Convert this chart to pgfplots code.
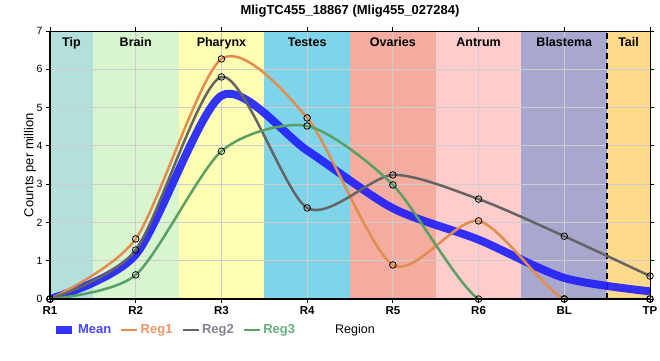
\documentclass[border=0pt]{standalone}
\usepackage{fontspec}
\setmainfont{Liberation Sans}
\usepackage{pgfplots}
\pgfplotsset{compat=1.18}
\definecolor{cTip}{RGB}{180,224,220}
\definecolor{cBrain}{RGB}{216,245,208}
\definecolor{cPhar}{RGB}{255,255,180}
\definecolor{cTest}{RGB}{128,212,234}
\definecolor{cOva}{RGB}{245,172,160}
\definecolor{cAntr}{RGB}{255,204,204}
\definecolor{cBlas}{RGB}{168,168,206}
\definecolor{cTail}{RGB}{255,217,140}
\definecolor{cMean}{RGB}{30,30,250}
\definecolor{cReg1}{RGB}{226,140,78}
\definecolor{cReg2}{RGB}{100,100,100}
\definecolor{cReg3}{RGB}{88,160,100}
\definecolor{tMean}{RGB}{70,70,255}
\definecolor{tReg1}{RGB}{232,150,100}
\definecolor{tReg2}{RGB}{130,130,145}
\definecolor{tReg3}{RGB}{100,175,125}
\definecolor{gridc}{RGB}{205,205,205}
\tikzset{reglab/.style={anchor=north, yshift=-3pt, font=\bfseries\fontsize{12.5}{14}\selectfont}}
\begin{document}
\begin{tikzpicture}
\begin{axis}[
  set layers,
  width=600pt, height=268pt, scale only axis,
  xmin=0, xmax=7, ymin=0, ymax=7,
  xtick={0,...,7}, xticklabels={R1,R2,R3,R4,R5,R6,BL,TP},
  ytick={0,...,7},
  grid=major, grid style={color=gridc, line width=0.8pt},
  axis line style={black, line width=1pt},
  tick align=outside, major tick length=4pt, tick style={black, line width=0.8pt},
  x tick label style={font=\bfseries\fontsize{11.5}{13}\selectfont},
  y tick label style={font=\fontsize{10.5}{12}\selectfont},
  /pgf/number format/assume math mode=true,
  xlabel={Region},
  xlabel style={font=\fontsize{12.5}{14}\selectfont, at={(axis description cs:0.5083,-0.1157)}, anchor=center},
  ylabel={Counts per million},
  ylabel style={font=\fontsize{13}{15}\selectfont, at={(axis description cs:-0.0333,0.5)}, anchor=center},
  title={MligTC455\_18867 (Mlig455\_027284)},
  title style={font=\bfseries\fontsize{13}{15}\selectfont, at={(axis description cs:0.5,1)}, anchor=center, yshift=14pt},
  clip mode=individual,
  legend style={at={(axis description cs:0.003,-0.1157)}, anchor=west, draw=none, fill=none,
    font=\bfseries\fontsize{13}{15}\selectfont, inner sep=0pt},
  legend columns=4,
  legend image code/.code={\draw[#1] (0pt,0pt) -- (16pt,0pt);},
  /tikz/every even column/.append style={column sep=7pt},
]
% region bands
\addplot[fill=cTip, draw=none, on layer=axis background, forget plot] coordinates {(0,0)(0,7)(0.5,7)(0.5,0)} -- cycle;
\addplot[fill=cBrain, draw=none, on layer=axis background, forget plot] coordinates {(0.5,0)(0.5,7)(1.5,7)(1.5,0)} -- cycle;
\addplot[fill=cPhar, draw=none, on layer=axis background, forget plot] coordinates {(1.5,0)(1.5,7)(2.5,7)(2.5,0)} -- cycle;
\addplot[fill=cTest, draw=none, on layer=axis background, forget plot] coordinates {(2.5,0)(2.5,7)(3.5,7)(3.5,0)} -- cycle;
\addplot[fill=cOva, draw=none, on layer=axis background, forget plot] coordinates {(3.5,0)(3.5,7)(4.5,7)(4.5,0)} -- cycle;
\addplot[fill=cAntr, draw=none, on layer=axis background, forget plot] coordinates {(4.5,0)(4.5,7)(5.5,7)(5.5,0)} -- cycle;
\addplot[fill=cBlas, draw=none, on layer=axis background, forget plot] coordinates {(5.5,0)(5.5,7)(6.5,7)(6.5,0)} -- cycle;
\addplot[fill=cTail, draw=none, on layer=axis background, forget plot] coordinates {(6.5,0)(6.5,7)(7,7)(7,0)} -- cycle;
\addplot[black, line width=1.5pt, dash pattern=on 6pt off 4pt, forget plot] coordinates {(6.5,0)(6.5,7)};

% series
\addplot[cMean, opacity=0.9, line width=8pt, smooth, tension=0.45, mark=none] coordinates {
(0,0)(1,1.16)(2,5.31)(3,3.88)(4,2.37)(5,1.55)(6,0.55)(7,0.2)};
\addlegendentry{\textcolor{tMean}{Mean}}
\addplot[cReg1, line width=2.5pt, smooth, tension=0.45, mark=o, mark size=3.3pt, mark options={draw=black, line width=0.8pt}] coordinates {
(0,0)(1,1.57)(2,6.27)(3,4.73)(4,0.89)(5,2.04)(6,0)(7,0)};
\addlegendentry{\textcolor{tReg1}{Reg1}}
\addplot[cReg2, line width=2.5pt, smooth, tension=0.45, mark=o, mark size=3.3pt, mark options={draw=black, line width=0.8pt}] coordinates {
(0,0)(1,1.28)(2,5.8)(3,2.38)(4,3.24)(5,2.61)(6,1.64)(7,0.6)};
\addlegendentry{\textcolor{tReg2}{Reg2}}
\addplot[cReg3, line width=2.5pt, smooth, tension=0.45, mark=o, mark size=3.3pt, mark options={draw=black, line width=0.8pt}] coordinates {
(0,0)(1,0.63)(2,3.86)(3,4.52)(4,2.98)(5,0)(6,0)(7,0)};
\addlegendentry{\textcolor{tReg3}{Reg3}}

% thicker left and bottom axis lines
\draw[black, line width=2.5pt] (rel axis cs:0,1) -- (rel axis cs:0,0) -- (rel axis cs:1,0);

% region labels
\node[reglab] at (axis cs:0.25,7) {Tip};
\node[reglab] at (axis cs:1,7) {Brain};
\node[reglab] at (axis cs:2,7) {Pharynx};
\node[reglab] at (axis cs:3,7) {Testes};
\node[reglab] at (axis cs:4,7) {Ovaries};
\node[reglab] at (axis cs:5,7) {Antrum};
\node[reglab] at (axis cs:6,7) {Blastema};
\node[reglab] at (axis cs:6.75,7) {Tail};
\end{axis}
\pgfresetboundingbox
\useasboundingbox (-50pt,-61pt) rectangle (610pt,299pt);
\end{tikzpicture}
\end{document}
